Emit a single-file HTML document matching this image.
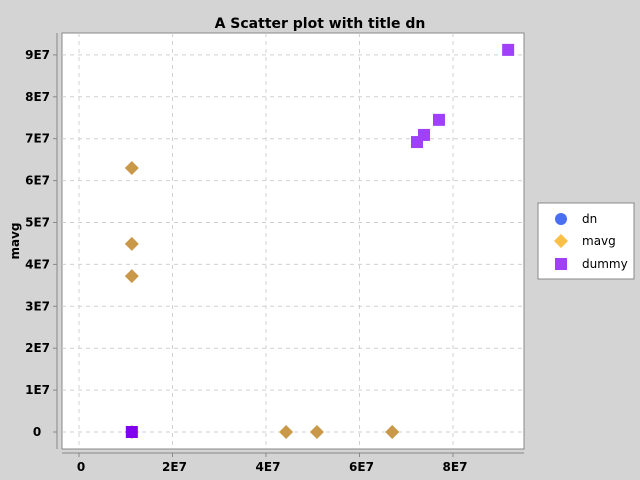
<!DOCTYPE html>
<html><head><meta charset="utf-8"><style>
body{margin:0;background:#d4d4d4;font-family:"DejaVu Sans","Liberation Sans",sans-serif}
svg{display:block}
</style></head><body>
<svg width="640" height="480" xmlns="http://www.w3.org/2000/svg">
<rect width="640" height="480" fill="#d4d4d4"/>
<text x="320" y="28" text-anchor="middle" font-size="14" font-weight="bold" fill="#000">A Scatter plot with title dn</text>
<rect x="62" y="33" width="462" height="416" fill="#fff" stroke="#888"/>
<g id="grid"></g>
<line x1="57" y1="33" x2="57" y2="449" stroke="#888"/>
<line x1="62" y1="453" x2="524" y2="453" stroke="#888"/>
<g id="ticks"></g>
<g id="marks"></g>
<text transform="translate(19,241) rotate(-90)" text-anchor="middle" font-size="12" font-weight="bold">mavg</text>
<g>
<rect x="538" y="203" width="96" height="76" fill="#fff" stroke="#888"/>
<circle cx="561" cy="219" r="6" fill="#4a6ff0"/>
<text x="582" y="223" font-size="12">dn</text>
<path d="M561,234 L568,241 L561,248 L554,241Z" fill="#f8c048"/>
<text x="582" y="245" font-size="12">mavg</text>
<rect x="555" y="258" width="12" height="12" fill="#a040f8"/>
<text x="582" y="268" font-size="12">dummy</text>
</g>
</svg>
<script>
const xTicks=[0,2e7,4e7,6e7,8e7];
const xTickLabels=["0","2E7","4E7","6E7","8E7"];
const yTicks=[0,1e7,2e7,3e7,4e7,5e7,6e7,7e7,8e7,9e7];
const yTickLabels=["0","1E7","2E7","3E7","4E7","5E7","6E7","7E7","8E7","9E7"];
const dnX=[1.13e7,1.13e7,1.13e7,1.13e7,4.43e7,5.09e7,6.7e7];
const dnY=[6.3e7,4.49e7,3.72e7,0,0,0,0];
const mavgX=[1.13e7,1.13e7,1.13e7,1.13e7,4.43e7,5.09e7,6.7e7];
const mavgY=[6.3e7,4.49e7,3.72e7,0,0,0,0];
const dummyX=[1.13e7,7.23e7,7.38e7,7.7e7,9.18e7];
const dummyY=[0,6.92e7,7.09e7,7.45e7,9.12e7];
const NS="http://www.w3.org/2000/svg";
const sx=v=>79+v*46.75/1e7, sy=v=>432-v*41.9/1e6/10;
function mk(t,a,p){const e=document.createElementNS(NS,t);for(const k in a)e.setAttribute(k,a[k]);document.getElementById(p).appendChild(e);return e;}
xTicks.forEach((v,i)=>{
 const g=mk('line',{x1:sx(v),x2:sx(v),y1:33,y2:449,stroke:'#d0d0d0','stroke-dasharray':'4,4'},'grid');
 
 
 const t=mk('line',{x1:sx(v),x2:sx(v),y1:453,y2:457,stroke:'#888'},'ticks');
 
 
 const l=mk('text',{x:sx(v)+2,y:471,'text-anchor':'middle','font-size':12,'font-weight':'bold'},'ticks');
 l.textContent=xTickLabels[i];
 
 
});
yTicks.forEach((v,i)=>{
 const g=mk('line',{x1:62,x2:524,y1:sy(v),y2:sy(v),stroke:'#d0d0d0','stroke-dasharray':'4,4'},'grid');
 
 
 const t=mk('line',{x1:53,x2:57,y1:sy(v),y2:sy(v),stroke:'#888'},'ticks');
 
 
 const l=mk('text',{x:i==0?37:50,y:sy(v)+4,'text-anchor':i==0?'middle':'end','font-size':12,'font-weight':'bold'},'ticks');
 l.textContent=yTickLabels[i];
 
 
});
dnX.forEach((v,i)=>{
 const c=mk('circle',{cx:sx(v),cy:sy(dnY[i]),r:4,fill:'#4a6ff0'},'marks');
 
 
});
mavgX.forEach((v,i)=>{
 const x=sx(v),y=sy(mavgY[i]);
 const p=mk('path',{d:`M${x},${y-7}L${x+7},${y}L${x},${y+7}L${x-7},${y}Z`,fill:'#c99848'},'marks');
 
 
});
dummyX.forEach((v,i)=>{
 const r=mk('rect',{x:sx(v)-6,y:sy(dummyY[i])-6,width:12,height:12,fill:i==0?'#8000f0':'#a040f8'},'marks');
 
 
});
</script>
</body></html>
